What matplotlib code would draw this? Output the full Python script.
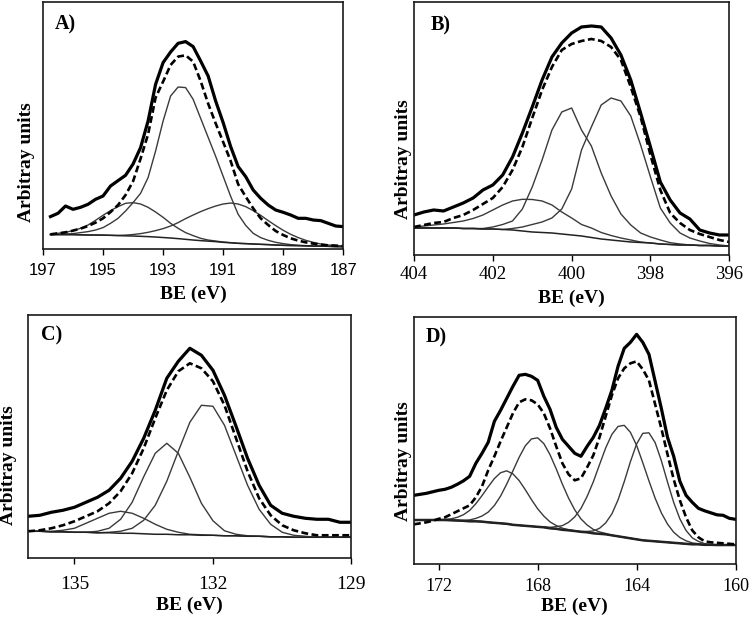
import numpy as np
import matplotlib
matplotlib.use('Agg')
import matplotlib.pyplot as plt

# ---- A) ----
a_be = np.arange(196.75, 186.99, -0.25)
a_exp = [32.7, 36, 43.3, 40, 42, 45, 50, 53.3, 63.3, 68.7,
         74, 85.3, 101.7, 128.3, 165, 186.7, 197.3, 206, 207.7, 202.7,
         188.3, 173.3, 148.3, 126.7, 102.7, 82.7, 72.7, 59.3, 51, 44.3,
         39.3, 37, 34.3, 31, 31, 29.3, 28.7, 26, 23.3, 22.7]
a_fit = [15, 16, 17, 18.7, 20.7, 23.3, 26.7, 31, 37.3, 44.3,
         54.3, 68, 90.7, 115, 151.7, 167.7, 184.3, 192.7, 194, 187.7,
         168.3, 145.7, 126, 107.3, 88.3, 65, 52.7, 41, 31, 24.3,
         18.3, 14.3, 11, 8.7, 7, 5.7, 4.7, 4, 3.7, 3.3]
a_bg = [14.7, 14.7, 14.7, 14.7, 14.5, 14.3, 14.3, 14.2, 14, 13.7,
        13.5, 13.3, 13, 12.7, 12.3, 11.8, 11.3, 10.7, 10, 9.3,
        8.7, 8.2, 7.7, 7, 6.5, 6, 5.7, 5.3, 5, 4.7,
        4.3, 4, 3.8, 3.7, 3.5, 3.3, 3.2, 3, 2.8, 2.7]
a_p1 = [15.3, 16, 17, 18.7, 21, 24.3, 29, 34, 38.7, 42.7,
        46, 46.7, 45.3, 42, 37.3, 32, 26, 21, 16.7, 13.7,
        11, 9.3, 8.3, 7.3, 6.7, 6, 5.7, 5.3, 5, 4.7,
        4.3, 4, 3.8, 3.7, 3.5, 3.3, 3.2, 3, 2.8, 2.7]
a_p2 = [14.7, 15, 15.3, 15.7, 16.7, 17.7, 19.3, 21.7, 26, 31,
        38.3, 46.7, 56, 71.7, 98.3, 128.3, 153.3, 162.3, 161.7, 150,
        131, 112, 93, 73, 53, 35, 24, 16, 11.7, 9,
        7, 5.7, 4.7, 4, 3.7, 3.3, 3, 3, 2.7, 2.7]
a_p3 = [14.7, 14.7, 14.7, 14.7, 14.5, 14.3, 14.3, 14.2, 14, 13.9,
        14.2, 14.8, 15.7, 17, 18.7, 20.7, 23.3, 26.7, 30.7, 34.3,
        37.7, 40.7, 43.3, 45.3, 46.3, 45.3, 42.7, 38.7, 34, 28.7,
        23.7, 19, 15, 11.7, 9, 7, 5.3, 4.3, 3.7, 3.3]

# ---- B) ----
b_be = np.arange(404.0, 395.99, -0.25)
b_exp = [40, 43, 45, 44, 48, 52, 57, 65, 70, 80,
         98, 122, 148, 175, 198, 212, 222, 228, 229, 228,
         217, 200, 175, 142, 108, 73, 55, 42, 36, 25,
         22, 20, 20]
b_fit = [28, 30, 32, 33, 37, 40, 45, 51, 57, 68,
         85, 108, 137, 165, 188, 205, 211, 214, 216, 214,
         208, 195, 168, 138, 100, 65, 42, 32, 25, 21,
         18, 15, 13]
b_bg = [27, 27, 27, 27, 27, 26.5, 26.5, 26, 26, 25.5,
        25, 24, 23, 22.5, 22, 21, 20, 19, 17.5, 16,
        15, 14, 13, 12.5, 12, 11, 10.5, 10, 10, 9.5,
        9.5, 9, 9]
b_p1 = [28, 29, 30, 31, 32.5, 34, 36.5, 40, 45, 50,
        54, 55.7, 55.5, 54, 50, 43, 37, 30.5, 27, 22.5,
        19.5, 17, 15, 13, 12, 11, 10.5, 10, 10, 9.5,
        9.5, 9, 9]
b_p2 = [27, 27, 27, 27, 27, 26.5, 26.5, 26.5, 28, 30.5,
        34, 46, 68, 95, 125, 143, 147, 125, 109, 82,
        59, 41, 30, 22, 18, 15, 12.3, 11, 10, 9.5,
        9.5, 9, 9]
b_p3 = [27, 27, 27, 27, 27, 26.5, 26.5, 26, 26, 25.5,
        26.5, 28, 30.5, 33, 37, 46, 66, 105, 128, 150,
        157, 154, 139, 110, 78, 47, 32, 22, 17, 14,
        11.5, 10, 9]

# ---- C) ----
c_be = np.arange(136.0, 128.99, -0.25)
c_exp = [42, 43, 46, 48, 51, 56, 61, 68, 80, 97,
         120, 148, 180, 197, 210, 203, 188, 163, 132, 100,
         73, 53, 45, 42, 40, 39, 39, 36, 36]
c_fit = [27, 28, 30, 33, 37, 42, 47, 55, 67, 85,
         110, 140, 168, 187, 195, 190, 177, 153, 120, 87,
         60, 43, 33, 28, 25, 23, 23, 23, 23]
c_bg = [27, 27, 26.5, 26.5, 26, 26, 25.5, 25.5, 25, 25,
        24.5, 24, 24, 23.5, 23.5, 23, 23, 22.5, 22.5, 22,
        22, 21.5, 21.5, 21, 21, 21, 21, 21, 21]
c_p1 = [27, 27, 27, 28, 30, 35, 40, 45, 47, 45,
        40, 34, 29, 26, 24, 23.5, 23, 22.5, 22.5, 22,
        22, 21.5, 21.5, 21, 21, 21, 21, 21, 21]
c_p2 = [27, 27, 26.5, 26.5, 26, 26, 27, 30, 39, 56,
        81.5, 105, 115, 105, 81, 55, 37.5, 27.5, 24, 22.5,
        22, 21.5, 21.5, 21, 21, 21, 21, 21, 21]
c_p3 = [27, 27, 26.5, 26.5, 26, 26, 25.5, 26, 27, 30,
        38, 53, 77, 107, 136, 153, 152, 133, 103, 73,
        49, 34, 26, 23, 22, 21, 21, 21, 21]

# ---- D) ----
d_be = np.arange(173.0, 159.99, -0.25)
d_exp = [69, 70, 71, 72.5, 74, 75, 77, 80, 83.5, 88,
         101, 111, 122, 143, 154, 166, 178, 189, 190, 188,
         184, 168, 155, 137, 125, 118, 111, 108, 118, 127,
         139, 156, 174, 198, 216, 222, 230, 222, 210, 183,
         156, 127, 108, 83, 69, 62, 56, 53.5, 51.5, 49.5,
         49, 46, 45]
d_fit = [40, 41, 42, 43.5, 45.5, 47, 50, 53, 56, 59,
         67, 78, 94, 108, 123, 137, 151, 162, 165, 164,
         160, 151, 136, 118, 101, 90, 84, 86, 97, 109,
         127, 148, 169, 186, 196, 201, 203, 195, 184, 160,
         136, 110, 85, 64, 47, 34, 27, 23, 22, 21.5,
         21, 20.5, 20]
d_bg = [44.3, 44.3, 44.3, 44.3, 44.3, 44.3, 44, 43.8, 43.5, 43,
        43, 42.7, 42, 41.5, 41, 40.5, 39.5, 39, 38.5, 38,
        37.5, 37, 36, 35.5, 34.5, 34, 33.3, 32.5, 32, 31,
        30.5, 30, 29, 28, 27, 26, 25, 24, 23.5, 23,
        22.5, 22, 21.5, 21, 20.5, 20, 20, 19.5, 19.5, 19.3,
        19.3, 19.3, 19.3]
d_p1 = [44.3, 44.3, 44.3, 44.4, 44.6, 45, 45.5, 47, 49.6, 53.9,
        60.6, 68.7, 77.5, 85.8, 91.6, 93.5, 90.4, 83.8, 74.6, 64.7,
        55.5, 48.2, 42.4, 38.8, 36.1, 34.7, 33.6, 32.5, 32, 31,
        30.5, 30, 29, 28, 27, 26, 25, 24, 23.5, 23,
        22.5, 22, 21.5, 21, 20.5, 20, 20, 19.5, 19.5, 19.3,
        19.3, 19.3, 19.3]
d_p2 = [44.3, 44.3, 44.3, 44.3, 44.3, 44.3, 44, 44, 44, 44.4,
        45.9, 48.3, 52.2, 58.8, 68.2, 80.3, 93.5, 107, 118.5, 125.4,
        126.5, 120.7, 109.6, 95.5, 80.1, 66.2, 54.4, 45.4, 39.3, 34.9,
        32.4, 30.9, 29, 28, 27, 26, 25, 24, 23.5, 23,
        22.5, 22, 21.5, 21, 20.5, 20, 20, 19.5, 19.5, 19.3,
        19.3, 19.3, 19.3]
d_p3 = [44.3, 44.3, 44.3, 44.3, 44.3, 44.3, 44, 43.8, 43.5, 43,
        43, 42.7, 42, 41.5, 41, 40.5, 39.5, 39, 38.5, 38,
        37.5, 37.4, 37, 37.6, 38.7, 42, 47.4, 55.8, 67.9, 82.5,
        99.6, 116.4, 129.9, 137.9, 139, 132, 119, 101.6, 83.4, 66.1,
        51.5, 40.2, 32.1, 26.8, 23.5, 21.4, 20.6, 19.5, 19.5, 19.3,
        19.3, 19.3, 19.3]
d_p4 = [44.3, 44.3, 44.3, 44.3, 44.3, 44.3, 44, 43.8, 43.5, 43,
        43, 42.7, 42, 41.5, 41, 40.5, 39.5, 39, 38.5, 38,
        37.5, 37, 36, 35.5, 34.5, 34, 33.3, 32.8, 32.9, 33.4,
        36, 41.4, 50.4, 64.4, 82.6, 102.6, 120.3, 131, 131.5, 121.7,
        103.7, 82.3, 61.9, 45.4, 33.8, 26.5, 22.9, 20.7, 19.9, 19.3,
        19.3, 19.3, 19.3]

SERIF = 'Liberation Serif'
SANS = 'Liberation Sans'


def draw_panel(ax, be, exp, fit, bg, peaks, xlim, ticks, letter, ymax,
               tick_font, tick_size, tick_pad, ylab_xy, xlab_y, letter_xy,
               bg_lw=1.1):
    for p in peaks:
        ax.plot(be, p, color='#3a3a3a', lw=1.0)
    ax.plot(be, bg, color='#222222', lw=bg_lw)
    ax.plot(be, fit, color='black', lw=1.9, ls=(0, (2.6, 1.3)))
    ax.plot(be, exp, color='black', lw=2.3)

    ax.set_xlim(*xlim)
    ax.set_ylim(0, ymax)
    ax.set_xticks(ticks)
    ax.set_yticks([])
    ax.tick_params(axis='x', direction='out', length=4, width=1,
                   pad=tick_pad, labelsize=tick_size,
                   labelfontfamily=tick_font)
    for s in ax.spines.values():
        s.set_linewidth(1.2)
        s.set_color('#1a1a1a')

    ax.set_xlabel('BE (eV)', fontfamily=SERIF, fontweight='bold', fontsize=14)
    ax.xaxis.set_label_coords(0.5, xlab_y)
    ax.set_ylabel('Arbitray units', fontfamily=SERIF, fontweight='bold',
                  fontsize=14)
    ax.yaxis.set_label_coords(*ylab_xy)
    ax.text(letter_xy[0], letter_xy[1], letter, transform=ax.transAxes,
            ha='left', va='top', fontfamily=SERIF, fontweight='bold',
            fontsize=14.5)


fig = plt.figure(figsize=(7.5, 6.23), dpi=100)

ax_a = fig.add_axes([0.0573, 0.5998, 0.4004, 0.3970])
ax_b = fig.add_axes([0.5520, 0.5907, 0.4204, 0.4066])
ax_c = fig.add_axes([0.0377, 0.1039, 0.4309, 0.3905])
ax_d = fig.add_axes([0.5520, 0.0942, 0.4287, 0.3974])

draw_panel(ax_a, a_be, a_exp, a_fit, a_bg, [a_p1, a_p2, a_p3],
           (197, 187), [197, 195, 193, 191, 189, 187], 'A)', 247.3,
           SANS, 12, 6, (-0.027, 0.354), -0.148, (0.04, 0.95))
draw_panel(ax_b, b_be, b_exp, b_fit, b_bg, [b_p1, b_p2, b_p3],
           (404, 396), [404, 402, 400, 398, 396], 'B)', 253.3,
           SERIF, 13.5, 4, (-0.006, 0.38), -0.138, (0.053, 0.945))
draw_panel(ax_c, c_be, c_exp, c_fit, c_bg, [c_p1, c_p2, c_p3],
           (136, 129), [135, 132, 129], 'C)', 243.3,
           SERIF, 14, 9, (-0.035, 0.383), -0.158, (0.04, 0.955))
draw_panel(ax_d, d_be, d_exp, d_fit, d_bg, [d_p1, d_p2, d_p3, d_p4],
           (173, 160), [172, 168, 164, 160], 'D)', 247.6,
           SERIF, 13, 5.5, (-0.006, 0.416), -0.134, (0.036, 0.955),
           bg_lw=1.8)

fig.savefig('out.png', dpi=100)
